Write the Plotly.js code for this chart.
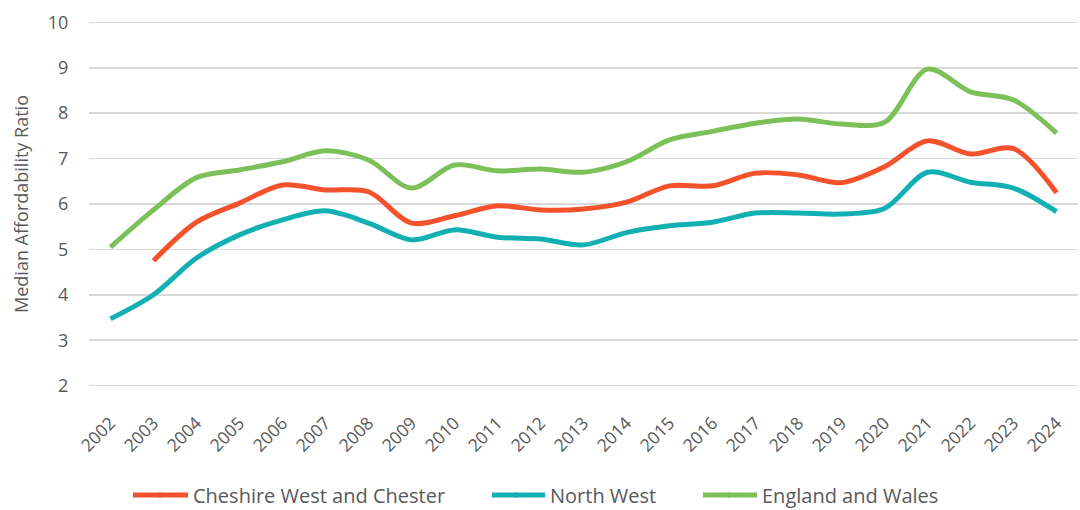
<!DOCTYPE html>
<html>
<head>
<meta charset="utf-8">
<script src="https://cdn.plot.ly/plotly-3.0.1.min.js"></script>
<style>html,body{margin:0;padding:0;background:#fff;}#chart{width:1080px;height:510px;}</style>
</head>
<body>
<div id="chart"></div>
<script>
const years = ['2002','2003','2004','2005','2006','2007','2008','2009','2010','2011','2012','2013','2014','2015','2016','2017','2018','2019','2020','2021','2022','2023','2024'];
const cheshireWestAndChester = [null,4.75,5.60,6.02,6.42,6.31,6.27,5.58,5.74,5.96,5.87,5.89,6.04,6.40,6.40,6.68,6.64,6.47,6.82,7.39,7.10,7.22,6.25];
const northWest = [3.47,4.00,4.81,5.32,5.65,5.85,5.58,5.21,5.43,5.27,5.23,5.10,5.37,5.52,5.60,5.80,5.80,5.78,5.90,6.70,6.48,6.35,5.83];
const englandAndWales = [5.05,5.87,6.58,6.75,6.93,7.17,6.97,6.35,6.86,6.73,6.77,6.70,6.93,7.41,7.60,7.78,7.87,7.76,7.80,8.97,8.47,8.29,7.56];
const seriesNames = ['Cheshire West and Chester','North West','England and Wales'];
const seriesColors = ['#F4512C','#12B0B3','#7CC05A'];

const seriesData = [cheshireWestAndChester, northWest, englandAndWales];
const legendIds = ['legend','legend2','legend3'];
const traces = seriesData.map((vals,i)=>({
  x: years, y: vals, type:'scatter', mode:'lines', name: seriesNames[i],
  line:{color: seriesColors[i], width:5, shape:'spline', smoothing:0.9},
  connectgaps:false, legend: legendIds[i], hoverinfo:'skip'
}));

// legend placement (pixels) and longer swatch extension, as in the reference
const W = 1080, H = 510, mL = 89, mR = 2, mT = 21, mB = 123;
const plotW = W - mL - mR, plotH = H - mT - mB;
const legendX = [153, 510, 722];
const swatchStart = [133, 492, 703];
const legendYpx = 495;
const shapes = swatchStart.map((sx,i)=>({
  type:'line', xref:'paper', yref:'paper',
  x0:(sx - mL)/plotW, x1:(legendX[i] + 8 - mL)/plotW,
  y0:(H - mB - legendYpx)/plotH, y1:(H - mB - legendYpx)/plotH,
  line:{color:seriesColors[i], width:5}
}));

const legendFont = {family:'"Open Sans",sans-serif', size:20, color:'#595959'};
const legendBase = {orientation:'h', xref:'container', yref:'container', yanchor:'middle', y:1 - legendYpx/H, xanchor:'left', font:legendFont, bgcolor:'rgba(0,0,0,0)', itemwidth:30};
const layout = {
  width:W, height:H,
  margin:{l:mL, r:mR, t:mT, b:mB},
  paper_bgcolor:'#fff', plot_bgcolor:'#fff',
  showlegend:true,
  font:{family:'"Open Sans",sans-serif', color:'#595959'},
  xaxis:{
    type:'category', range:[-0.5, years.length-0.5], tickangle:-45, showgrid:false, zeroline:false, showline:false,
    ticks:'outside', ticklen:18, tickcolor:'rgba(0,0,0,0)',
    tickfont:{family:'"Open Sans",sans-serif', size:17.5, color:'#595959'},
    automargin:false
  },
  yaxis:{
    range:[1.97,10.03], tickvals:[2,3,4,5,6,7,8,9,10], showgrid:true, gridcolor:'#D9D9D9', gridwidth:1.5,
    zeroline:false, showline:false, ticks:'outside', ticklen:16, tickcolor:'rgba(0,0,0,0)',
    tickfont:{family:'"Open Sans",sans-serif', size:18, color:'#595959'},
    title:{text:'Median Affordability Ratio', font:{family:'"Open Sans",sans-serif', size:18, color:'#595959'}, standoff:14},
    automargin:false
  },
  shapes: shapes,
  legend: Object.assign({}, legendBase, {x:legendX[0]/W}),
  legend2: Object.assign({}, legendBase, {x:legendX[1]/W}),
  legend3: Object.assign({}, legendBase, {x:legendX[2]/W})
};
Plotly.newPlot('chart', traces, layout, {staticPlot:true, displayModeBar:false});
</script>
</body>
</html>
